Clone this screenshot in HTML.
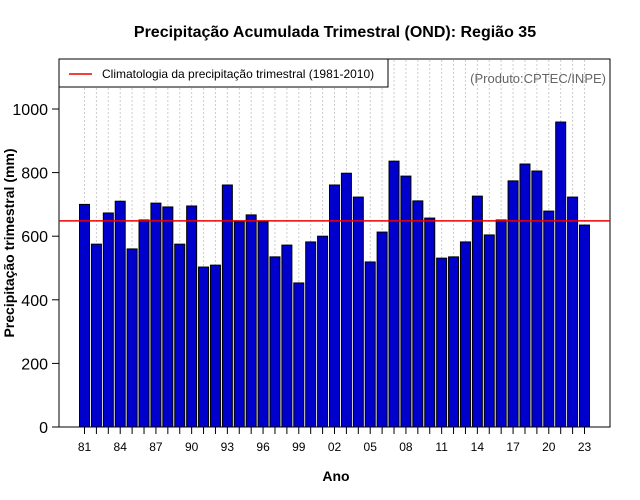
<!DOCTYPE html>
<html><head><meta charset="utf-8"><style>
body{margin:0;background:#fff;}
svg{display:block;font-family:"Liberation Sans",sans-serif;}
</style></head><body>
<svg id="chart" width="640" height="500">
<text x="335" y="37" text-anchor="middle" font-size="16" font-weight="bold">Precipitação Acumulada Trimestral (OND): Região 35</text>
<g id="grid"></g>
<g id="bars"></g>
<rect x="59" y="59" width="551" height="368" fill="none" stroke="#000" stroke-width="1"/>
<g id="yaxis"></g>
<g id="xaxis"></g>
<line id="clim" stroke="#e00" stroke-width="1.5"/>
<g>
<rect x="59" y="59" width="329" height="28" fill="#fff" stroke="#000"/>
<line x1="69" y1="74" x2="92" y2="74" stroke="#e00" stroke-width="1.5"/>
<text x="102" y="78" font-size="12">Climatologia da precipitação trimestral (1981-2010)</text>
</g>
<text x="606" y="83" text-anchor="end" font-size="13" fill="#666">(Produto:CPTEC/INPE)</text>
<text x="336" y="481" text-anchor="middle" font-size="14" font-weight="bold">Ano</text>
<text transform="translate(14,243) rotate(-90)" text-anchor="middle" font-size="14" font-weight="bold">Precipitação trimestral (mm)</text>
</svg>
<script>
const years=[1981,1982,1983,1984,1985,1986,1987,1988,1989,1990,1991,1992,1993,1994,1995,1996,1997,1998,1999,2000,2001,2002,2003,2004,2005,2006,2007,2008,2009,2010,2011,2012,2013,2014,2015,2016,2017,2018,2019,2020,2021,2022,2023];
const values=[700,575,673,710,560,651,704,692,575,695,503,509,761,645,667,645,535,572,453,582,600,761,798,723,519,613,836,789,711,657,531,535,582,726,604,651,774,827,805,679,959,723,635];
const climatology=648;
const yTicks=[0,200,400,600,800,1000];
const NS="http://www.w3.org/2000/svg";
const yScale=v=>427-v*0.318;
const xScale=i=>84.5+i*(500/42);
function mk(tag,attrs,parent){const e=document.createElementNS(NS,tag);for(const k in attrs)e.setAttribute(k,attrs[k]);parent.appendChild(e);return e;}
const grid=document.getElementById('grid'),bars=document.getElementById('bars'),ya=document.getElementById('yaxis'),xa=document.getElementById('xaxis');
years.forEach((y,i)=>{
 const x=xScale(i);
 const g=mk('line',{x1:x,x2:x,y1:60,y2:427,stroke:'#ccc','stroke-dasharray':'2,2'},grid);
 
 
 const b=mk('rect',{x:x-5,y:yScale(values[i]),width:10,height:427-yScale(values[i]),fill:'#0000cd',stroke:'#000','stroke-width':1},bars);
 
 
 const t=mk('line',{x1:x,x2:x,y1:427,y2:434,stroke:'#000'},xa);
 
 
 if(i%3===0){
  const l=mk('text',{x:x,y:451,'text-anchor':'middle','font-size':12},xa);
  l.textContent=String(y%100).padStart(2,'0');
  
  
 }
});
yTicks.forEach(v=>{
 const y=yScale(v);
 const t=mk('line',{x1:52,x2:59,y1:y,y2:y,stroke:'#000'},ya);
 
 
 const l=mk('text',{x:48,y:y+6,'text-anchor':'end','font-size':16},ya);
 l.textContent=v;
 
 
});
const c=document.getElementById('clim');
c.setAttribute('x1',59);c.setAttribute('x2',610);
c.setAttribute('y1',yScale(climatology));c.setAttribute('y2',yScale(climatology));
</script>
</body></html>
